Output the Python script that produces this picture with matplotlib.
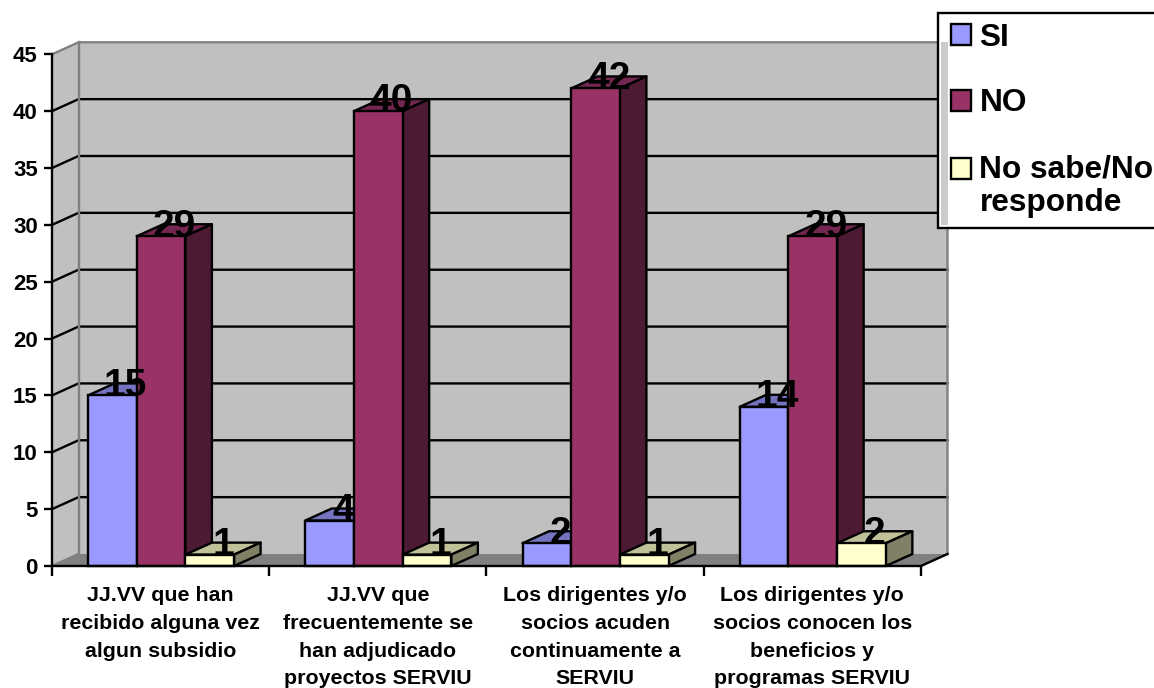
import matplotlib
matplotlib.use("Agg")
import matplotlib.pyplot as plt
from matplotlib.patches import Patch, Polygon, Rectangle

plt.rcParams["font.family"] = ["Liberation Sans", "DejaVu Sans"]
plt.rcParams["font.weight"] = "bold"

categories = ["JJ.VV que han\nrecibido alguna vez\nalgun subsidio",
              "JJ.VV que\nfrecuentemente se\nhan adjudicado\nproyectos SERVIU",
              "Los dirigentes y/o\nsocios acuden\ncontinuamente a\nSERVIU",
              "Los dirigentes y/o\nsocios conocen los\nbeneficios y\nprogramas SERVIU"]
si = [15, 4, 2, 14]
no = [29, 40, 42, 29]
nsnr = [1, 1, 1, 2]
series_names = ["SI", "NO", "No sabe/No\nresponde"]
yticks = [0, 5, 10, 15, 20, 25, 30, 35, 40, 45]

colors = ["#9999FF", "#993366", "#FFFFCC"]
tops = ["#7373BF", "#732650", "#C0C099"]
sides = ["#4D4D80", "#4D1A33", "#808066"]

W, H = 1154, 688
LW = 1.7

fig = plt.figure(figsize=(W/100, H/100), dpi=100)
ax = fig.add_axes([52/W, 1-566/H, (921-52)/W, (566-54.3)/H])
ax.set_xlim(0, 4)
ax.set_ylim(0, 45)
ax.patch.set_visible(False)

# depth of the 3d box, in data units
dx = 26.5/(869/4)
dy = 12/(511.7/45)
bar_w = 48.7/(869/4)
first = 36/(869/4)


def poly(pts, fc, ec="none", lw=0, z=1):
    ax.add_patch(Polygon(pts, closed=True, facecolor=fc, edgecolor=ec,
                         linewidth=lw, zorder=z, clip_on=False,
                         joinstyle="round"))


# walls and floor
poly([(0, 0), (dx, dy), (dx, 45+dy), (0, 45)], "#C0C0C0")
poly([(dx, dy), (4+dx, dy), (4+dx, 45+dy), (dx, 45+dy)], "#C0C0C0")
poly([(0, 0), (4, 0), (4+dx, dy), (dx, dy)], "#808080")
for t in yticks[1:-1]:
    ax.plot([0, dx, 4+dx], [t, t+dy, t+dy], color="black", lw=LW, zorder=2,
            clip_on=False, solid_joinstyle="miter")
ax.plot([0, dx, 4+dx, 4+dx], [45, 45+dy, 45+dy, dy], color="#808080", lw=LW,
        zorder=2, clip_on=False)
ax.plot([dx, dx], [45+dy, dy], color="#808080", lw=LW, zorder=2, clip_on=False)
ax.plot([0, dx], [0, dy], color="#808080", lw=LW, zorder=2, clip_on=False)
ax.plot([4, 4+dx], [0, dy], color="black", lw=LW, zorder=2, clip_on=False)

# bars, back to front within each group
z = 3
for g in range(4):
    for k, vals in enumerate([si, no, nsnr]):
        v = vals[g]
        x0 = g + first + k*bar_w
        x1 = x0 + bar_w
        poly([(x0, v), (x1, v), (x1+dx, v+dy), (x0+dx, v+dy)], tops[k],
             "black", LW, z)
        poly([(x1, 0), (x1+dx, dy), (x1+dx, v+dy), (x1, v)], sides[k],
             "black", LW, z)
        ax.bar(x0, v, bar_w, align="edge", color=colors[k], edgecolor="black",
               linewidth=LW, zorder=z, clip_on=False)
        z += 1

# value labels sit on the top face of each bar
for g in range(4):
    for k, vals in enumerate([si, no, nsnr]):
        v = vals[g]
        ax.text(g + first + (k+0.5)*bar_w + dx/2, v + dy + 0.15, str(v),
                fontsize=28, ha="center", va="center_baseline", color="black",
                zorder=50)

for s in ["top", "right"]:
    ax.spines[s].set_visible(False)
for s in ["left", "bottom"]:
    ax.spines[s].set_linewidth(LW)
    ax.spines[s].set_zorder(30)

ax.set_yticks(yticks)
ax.tick_params(axis="y", length=6, width=LW, pad=4.2, labelsize=16)
ax.set_xticks([0, 1, 2, 3, 4])
ax.set_xticklabels([])
ax.set_xticks([0.5, 1.5, 2.5, 3.5], minor=True)
ax.set_xticklabels(categories, minor=True, fontsize=15.4, linespacing=1.59)
ax.tick_params(axis="x", which="major", length=7, width=LW)
ax.tick_params(axis="x", which="minor", length=0, pad=14.3)

handles = [Patch(facecolor=c, edgecolor="black", linewidth=LW) for c in colors]
leg = fig.legend(handles, series_names, loc="upper left",
                 bbox_to_anchor=(938/W, 1-13/H), bbox_transform=fig.transFigure,
                 fontsize=22.8, frameon=True, fancybox=False, framealpha=1,
                 edgecolor="black", borderaxespad=0, borderpad=0.3,
                 labelspacing=1.13, handlelength=0.65, handleheight=0.65,
                 handletextpad=0.36)
leg.get_frame().set_linewidth(LW)
for t in leg.get_texts():
    t.set_linespacing(1.19)

# swatches sit a little further in, the two-line entry keeps its swatch
# next to the first line
for h in leg.legend_handles:
    h.set_x(h.get_x() + 3*0.72)
h3 = leg.legend_handles[2]
h3.set_y(h3.get_y() + 18*0.72)

# pale strip of the wall along the left side of the legend box
fig.add_artist(Rectangle((940.5/W, 1-224.5/H), 7.5/W, 182/H, facecolor="#CBCBCB",
                         edgecolor="none", transform=fig.transFigure, zorder=6))

fig.savefig("out.png", dpi=100)
